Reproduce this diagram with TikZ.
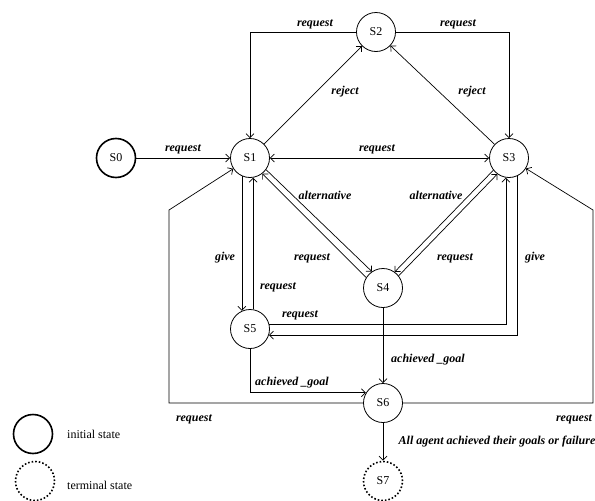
\documentclass[tikz,border=0pt]{standalone}
\usepackage{fontspec}
\setmainfont{Liberation Serif}
\usetikzlibrary{arrows.meta}
\begin{document}
\begin{tikzpicture}[x=1pt,y=-1pt,
  state/.style={circle,draw,line width=0.8pt,minimum size=39pt,inner sep=0pt,font=\fontsize{12}{14}\selectfont},
  initstate/.style={state,line width=1.6pt},
  termstate/.style={state,line width=1.6pt,dotted},
  edge/.style={draw,line width=0.7pt,-{Straight Barb[length=4pt,width=8pt]}},
  biedge/.style={draw,line width=0.7pt,{Straight Barb[length=4pt,width=8pt]}-{Straight Barb[length=4pt,width=8pt]}},
  lbl/.style={font=\fontsize{12}{14}\selectfont\bfseries\itshape,inner sep=0pt},
  legtext/.style={font=\fontsize{12}{14}\selectfont,anchor=west,inner sep=0pt}]
\useasboundingbox (0,0) rectangle (595,501);
% states
\node[initstate] (s0) at (116,158) {S0};
\node[state] (s1) at (250,158) {S1};
\node[state] (s2) at (376,32) {S2};
\node[state] (s3) at (509,158) {S3};
\node[state] (s4) at (383,288) {S4};
\node[state] (s5) at (250,329) {S5};
\node[state] (s6) at (383,403) {S6};
\node[termstate] (s7) at (383,481) {S7};
% helper corners
\coordinate (l1) at (169,403);
\coordinate (l2) at (169,210);
\coordinate (r1) at (593,403);
\coordinate (r2) at (593,210);
% connectors
\draw[edge] (s0) -- (s1);
\draw[edge] (s2.west) -| (s1.north);
\draw[edge] (s2.east) -| (s3.north);
\draw[edge] (s1) -- (s2);
\draw[edge] (s3) -- (s2);
\draw[biedge] (s1.east) -- (s3.west);
\draw[edge] (s1.-36) -- (s4.124);
\draw[edge] (s4.148) -- (s1.-52);
\draw[edge] (s3.218) -- (s4.54);
\draw[edge] (s4.38) -- (s3.234);
\draw[edge] (s1.246) -- (s5.114);
\draw[edge] (s5.81) -- (s1.279);
\draw[edge] (s5.15) -| (s3.261);
\draw[edge] (s3.294) |- (s5.-18);
\draw[edge] (s4) -- (s6);
\draw[edge] (s5.south) |- (s6.149);
\draw[edge] (s6.west) -- (l1) -- (l2) -- (s1);
\draw[edge] (s6.east) -- (r1) -- (r2) -- (s3);
\draw[edge] (s6) -- (s7);
% labels
\node[lbl] (t1) at (183,149) {request};
\node[lbl] (t2) at (315,24) {request};
\node[lbl] (t3) at (345,92) {reject};
\node[lbl] (t4) at (458,24) {request};
\node[lbl] (t5) at (472,92) {reject};
\node[lbl] (t6) at (377,149) {request};
\node[lbl] (t7) at (325,195) {alternative};
\node[lbl] (t8) at (312,258) {request};
\node[lbl] (t9) at (436,195) {alternative};
\node[lbl] (t10) at (455,258) {request};
\node[lbl] (t11) at (225,258) {give};
\node[lbl] (t12) at (278,287) {request};
\node[lbl] (t13) at (300,315) {request};
\node[lbl] (t14) at (535,258) {give};
\node[lbl] (t15) at (428,360) {achieved \_goal};
\node[lbl] (t16) at (292,383) {achieved \_goal};
\node[lbl] (t17) at (194,419) {request};
\node[lbl] (t18) at (574,419) {request};
\node[lbl] (t19) at (497,442) {All agent achieved their goals or failure};
% legend
\node[initstate] (li) at (33,434) {};
\node[termstate] (lt) at (35,481) {};
\node[legtext] (lti) at (67,434) {initial state};
\node[legtext] (ltt) at (67,485) {terminal state};
\end{tikzpicture}
\end{document}
